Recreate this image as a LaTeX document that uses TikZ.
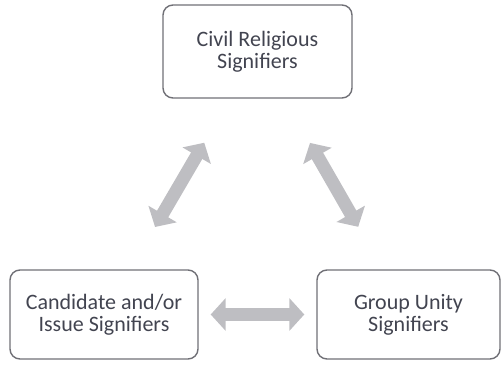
\documentclass[tikz,border=0pt]{standalone}
\usepackage{fontspec}
\setmainfont{Carlito}
\usetikzlibrary{arrows.meta}
\definecolor{txt}{RGB}{66,68,80}
\definecolor{edge}{RGB}{112,112,118}
\definecolor{arr}{RGB}{190,190,194}
\tikzset{
  box/.style={draw=edge, line width=1.4pt, rounded corners=10pt, inner sep=0pt,
    align=center, text=txt, font=\fontsize{22}{22}\selectfont},
  dbl/.style={draw=arr, line width=13pt,
    {Triangle[length=15pt,width=32pt]}-{Triangle[length=15pt,width=32pt]}}
}
\begin{document}
\begin{tikzpicture}[x=1pt,y=1pt]
\useasboundingbox (0,0) rectangle (502,364);
\node[box, minimum width=189pt, minimum height=93pt] (T) at (257.5,312.5) {Civil Religious\\Signifiers};
\node[box, minimum width=188pt, minimum height=89pt] (L) at (104,49.5) {Candidate and/or\\Issue Signifiers};
\node[box, minimum width=183pt, minimum height=89pt] (R) at (408.5,49.5) {Group Unity\\Signifiers};
\draw[dbl, shorten <=12pt, shorten >=12pt] (L) -- (R);
\draw[dbl, shorten <=49pt, shorten >=51pt] (L) -- (T);
\draw[dbl, shorten <=49pt, shorten >=51pt] (R) -- (T);
\end{tikzpicture}
\end{document}
